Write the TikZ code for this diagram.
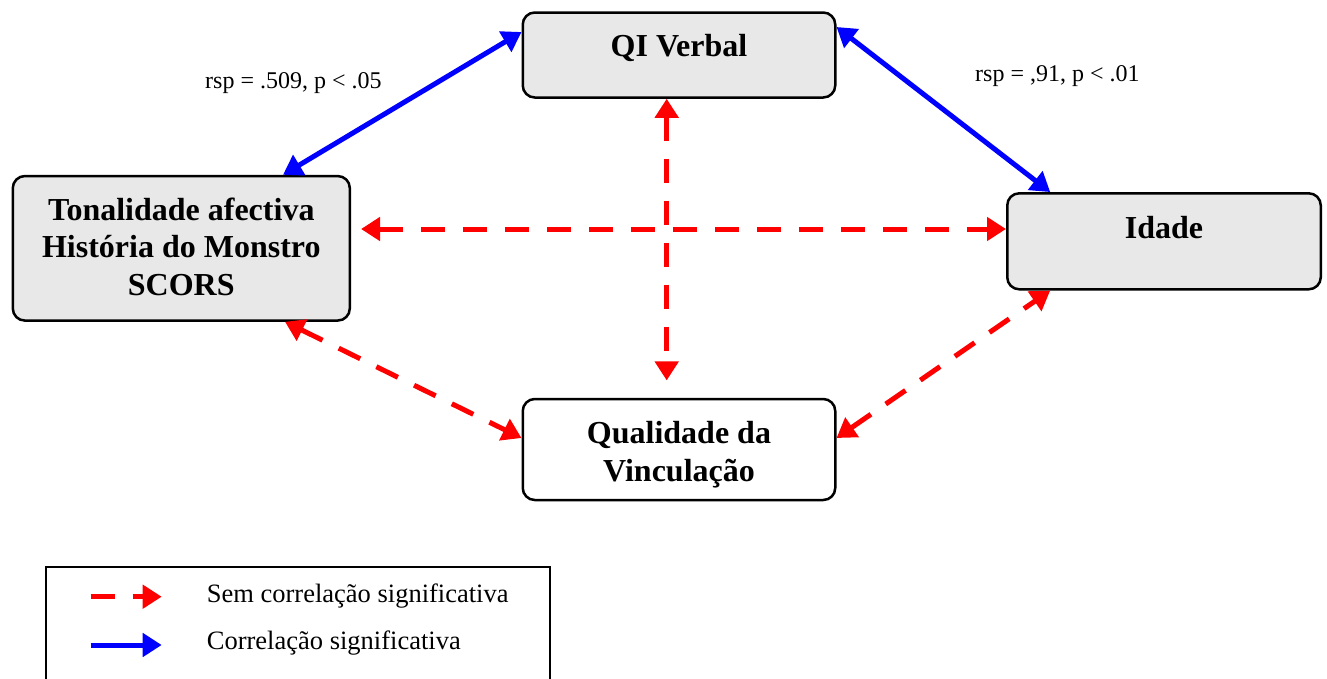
\documentclass[tikz,border=0pt]{standalone}
\usepackage{fontspec}
\setmainfont{Liberation Serif}
\usetikzlibrary{arrows.meta,calc}
\definecolor{boxgray}{HTML}{E8E8E8}
\begin{document}
\begin{tikzpicture}[x=1pt,y=-1pt,
  varbox/.style={draw=black, line width=2.5pt, rounded corners=12pt, inner sep=0pt, fill=#1},
  varbox/.default=boxgray,
  title/.style={font=\fontsize{32}{37.5}\selectfont\bfseries, inner sep=0pt, anchor=base},
  stat/.style={font=\fontsize{24}{28}\selectfont, inner sep=0pt, anchor=base west},
  legtext/.style={font=\fontsize{26.5}{31}\selectfont, inner sep=0pt, anchor=base west},
  sig/.style={draw=blue, line width=5pt, arrows={-{Triangle[length=19pt,width=23pt]}}},
  sigboth/.style={sig, arrows={{Triangle[length=19pt,width=23pt]}-{Triangle[length=19pt,width=23pt]}}},
  nonsig/.style={draw=red, line width=5pt, dash pattern=on 24pt off 18pt, arrows={-{Triangle[length=19pt,width=23pt]}}},
  nonsigboth/.style={nonsig, arrows={{Triangle[length=19pt,width=23pt]}-{Triangle[length=19pt,width=23pt]}}}
]
\useasboundingbox (0,0) rectangle (1327,678);

% variable boxes
\node[varbox, minimum width=312.5pt, minimum height=85pt] (qi) at (679,55) {};
\node[varbox, minimum width=337pt, minimum height=144.5pt] (tona) at (181.3,248.3) {};
\node[varbox, minimum width=313.5pt, minimum height=96pt] (idade) at (1164,241.3) {};
\node[varbox=white, minimum width=312.5pt, minimum height=101pt] (qual) at (679,449.5) {};

% box titles
\node[title] (qiT) at (679,56) {QI Verbal};
\node[title] (tonaT1) at (181.3,220) {Tonalidade afectiva};
\node[title] (tonaT2) at (181.3,257.5) {História do Monstro};
\node[title] (tonaT3) at (181.3,295) {SCORS};
\node[title] (idadeT) at (1164,238) {Idade};
\node[title] (qualT1) at (679,443.3) {Qualidade da};
\node[title] (qualT2) at (679,481.7) {Vinculação};

% correlation statistics
\node[stat] (r1) at (205,88.3) {rsp = .509, p < .05};
\node[stat] (r2) at (975,81) {rsp = ,91, p < .01};

% significant correlations
\draw[sigboth] ($(tona.north)+(101.7,0)$) -- ($(qi.west)+(0,-23)$);
\draw[sigboth] ($(qi.east)+(0,-28)$) -- ($(idade.north)+(-113.8,0)$);

% non-significant correlations
\coordinate (hl) at ($(tona.east)+(10,-19.3)$);
\draw[nonsigboth] (hl) -- (hl -| idade.west);
\coordinate (vt) at ($(qi.south)+(-12.3,0)$);
\coordinate (vb) at ($(qual.north)+(-12.3,-17.3)$);
\draw[nonsigboth] (vt) -- (vb);
\draw[nonsigboth] ($(tona.south)+(103.7,0)$) -- ($(qual.west)+(0,-11.5)$);
\draw[nonsigboth] ($(qual.east)+(0,-11.5)$) -- ($(idade.south)+(-113.8,0)$);

% legend
\begin{scope}
\clip (0,0) rectangle (1327,678);
\node[draw=black, line width=2pt, inner sep=0pt, minimum width=504pt, minimum height=140pt, anchor=north west] (legend) at (45,565.7) {};
\end{scope}
\coordinate (l1a) at (90.7,596.7);
\coordinate (l1b) at (161.7,596.7);
\coordinate (l2a) at (90.7,645);
\coordinate (l2b) at (161.7,645);
\draw[nonsig] (l1a) -- (l1b);
\draw[sig] (l2a) -- (l2b);
\node[legtext] (leg1) at (206.7,602.7) {Sem correlação significativa};
\node[legtext] (leg2) at (206.7,649.3) {Correlação significativa};
\end{tikzpicture}
\end{document}
